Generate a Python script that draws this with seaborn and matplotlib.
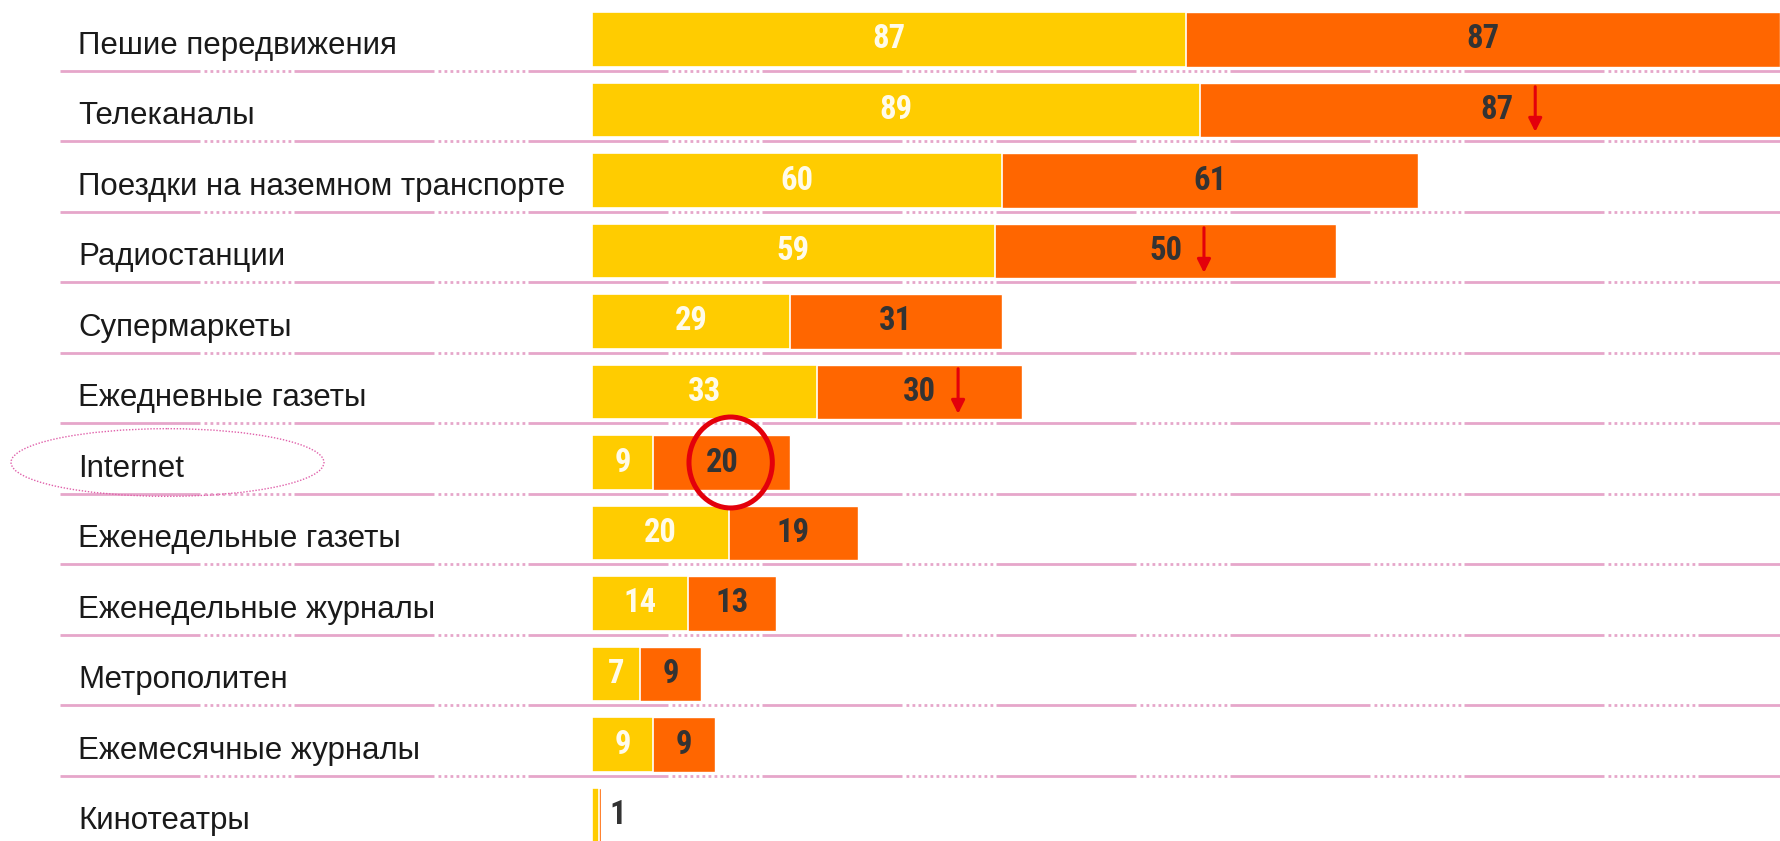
import numpy as np
import pandas as pd
import matplotlib
matplotlib.use("Agg")
import matplotlib.pyplot as plt
import seaborn as sns
from matplotlib.patches import Ellipse
from matplotlib.transforms import blended_transform_factory

# ---------------- data ----------------
categories = [
    "Пешие передвижения",
    "Телеканалы",
    "Поездки на наземном транспорте",
    "Радиостанции",
    "Супермаркеты",
    "Ежедневные газеты",
    "Internet",
    "Еженедельные газеты",
    "Еженедельные журналы",
    "Метрополитен",
    "Ежемесячные журналы",
    "Кинотеатры",
]
yellow_values = [87, 89, 60, 59, 29, 33, 9, 20, 14, 7, 9, 1.0]
orange_values = [87, 87, 61, 50, 31, 30, 20, 19, 13, 9, 9, 0.35]
yellow_labels = ["87", "89", "60", "59", "29", "33", "9", "20", "14", "7", "9", ""]
orange_labels = ["87", "87", "61", "50", "31", "30", "20", "19", "13", "9", "9", "1"]
arrow_rows = ["Телеканалы", "Радиостанции", "Ежедневные газеты"]
highlight_row = "Internet"

# ---------------- style ----------------
YELLOW = "#FFCC00"
ORANGE = "#FF6600"
PINK = "#E6A6CA"
RED = "#E3000B"

sns.set_theme(style="white")
plt.rcParams["font.family"] = ["Liberation Sans", "DejaVu Sans"]

W, H, DPI = 1781, 841, 100
fig = plt.figure(figsize=(W / DPI, H / DPI), dpi=DPI)
left_px = 592
ax = fig.add_axes([left_px / W, 0, 1 - left_px / W, 1])

df = pd.DataFrame({
    "cat": categories,
    "first": yellow_values,
    "total": np.add(yellow_values, orange_values),
})

bar_w = 0.78
sns.barplot(data=df, x="total", y="cat", color=ORANGE, saturation=1,
            width=bar_w, edgecolor="white", linewidth=1.0, orient="h", ax=ax)
sns.barplot(data=df, x="first", y="cat", color=YELLOW, saturation=1,
            width=bar_w, edgecolor="white", linewidth=1.2, orient="h", ax=ax)

px_per_unit = 6.83
xmax = (W - left_px) / px_per_unit
ax.set_xlim(0, xmax)
pitch = 70.5
top_c = 39.5
ax.set_ylim((H - top_c) / pitch, -top_c / pitch)
ax.axis("off")

# separator lines (alternating solid / dotted, pink)
pt = 72 / DPI
dashes = [70 * pt, 2 * pt] + [1.4 * pt, 1.6 * pt] * 23
line_x0 = (60 - left_px) / px_per_unit
for i in range(len(categories)):
    ax.plot([line_x0, xmax], [i + 0.44, i + 0.44], color=PINK, lw=2.0,
            dashes=dashes, dash_capstyle="butt", zorder=0.5, clip_on=False)

# category labels
tr = blended_transform_factory(fig.transFigure, ax.transData)
for i, c in enumerate(categories):
    ax.text(78 / W, i + 0.2, c, transform=tr, ha="left", va="baseline",
            fontsize=22.5, color="#1a1a1a")

# value labels
vfam = ["Roboto Condensed", "Liberation Sans"]
vfont = dict(family=vfam, weight="bold", fontsize=23.5)
for i, (yv, ov, yl, ol) in enumerate(zip(yellow_values, orange_values, yellow_labels, orange_labels)):
    if yl:
        ax.text(yv / 2, i, yl, ha="center", va="center", color="#FFFBEA", zorder=4, **vfont)
    if ov >= 3:
        ox = yv + ov / 2
        ax.text(ox, i, ol, ha="center", va="center", color="#333333", zorder=4, **vfont)
    else:
        ox = yv + ov + 1.2
        ax.text(ox, i, ol, ha="left", va="center", color="#333333", zorder=4, **vfont)
    if categories[i] in arrow_rows:
        axx = ox + 5.6
        ax.annotate("", xy=(axx, i + 0.31), xytext=(axx, i - 0.33),
                    arrowprops=dict(arrowstyle="-|>", color=RED, lw=2.2,
                                    mutation_scale=20, shrinkA=0, shrinkB=0),
                    zorder=5)

# highlight circle around Internet value and ellipse around its label
hi = categories.index(highlight_row)
ax.add_patch(Ellipse((20.3, hi), width=12.2, height=1.29, fill=False,
                     ec=RED, lw=3.6, zorder=6))
ell = Ellipse((((11 + 324) / 2 - left_px) / px_per_unit, hi), width=313 / px_per_unit,
              height=0.96, fill=False, ec="#E060AA", lw=1.0, ls=(0, (1, 1.2)),
              clip_on=False, zorder=6)
ax.add_patch(ell)

fig.savefig("out.png", dpi=DPI, facecolor="white")
